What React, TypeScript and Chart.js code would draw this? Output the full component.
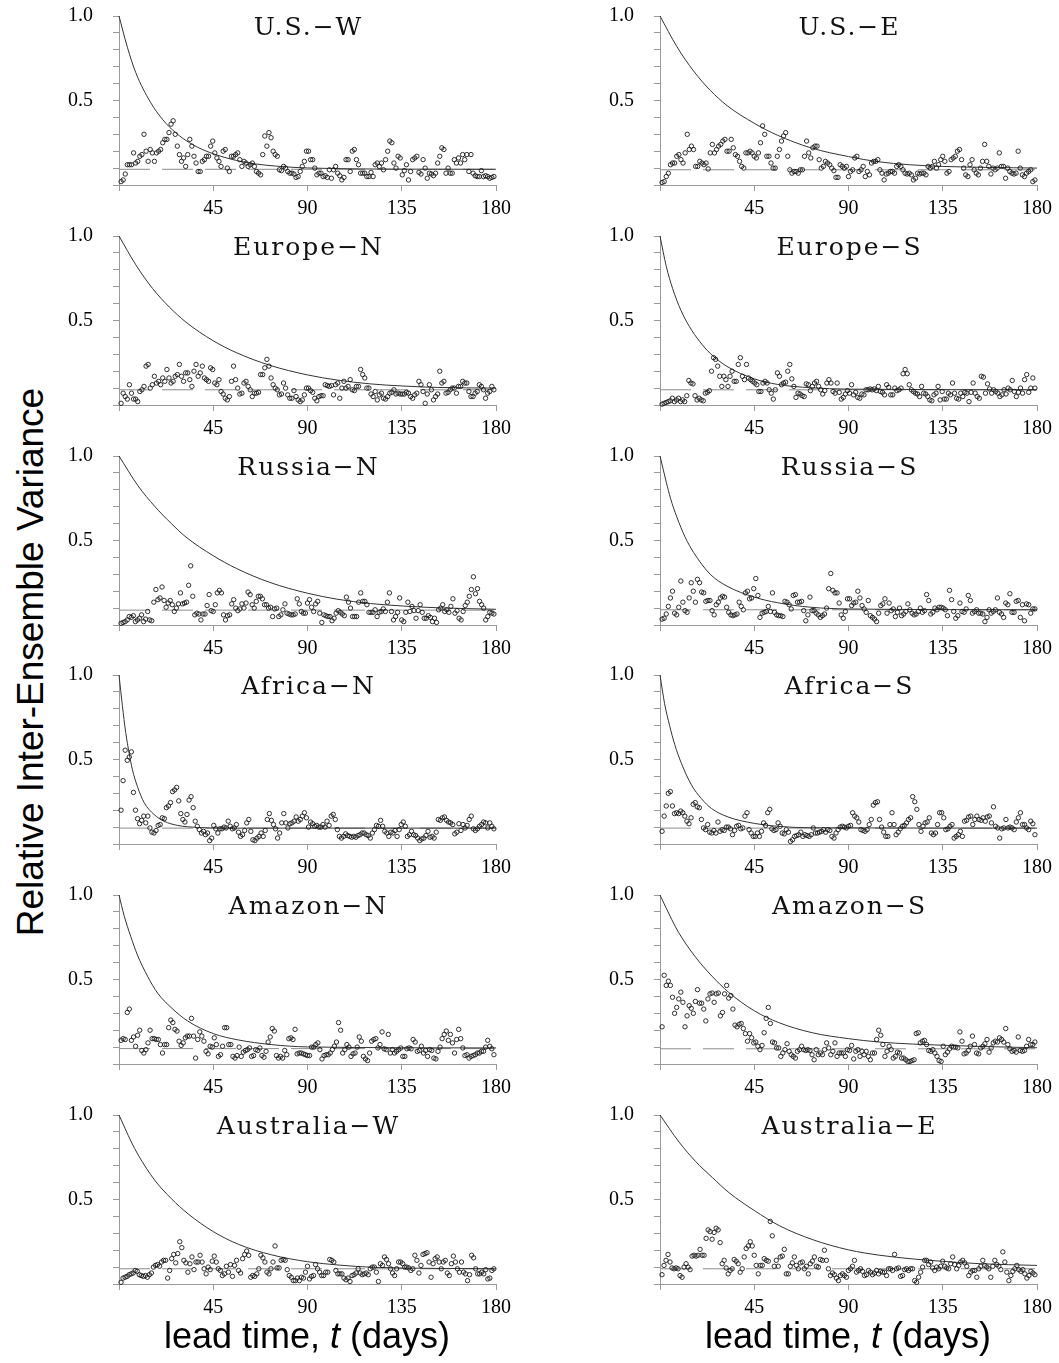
import React, { useEffect, useRef } from 'react';
import { Chart, registerables } from 'chart.js';

Chart.register(...registerables);

// ---------- data ----------
const regions = [
  'U.S.\u2212W', 'U.S.\u2212E',
  'Europe\u2212N', 'Europe\u2212S',
  'Russia\u2212N', 'Russia\u2212S',
  'Africa\u2212N', 'Africa\u2212S',
  'Amazon\u2212N', 'Amazon\u2212S',
  'Australia\u2212W', 'Australia\u2212E',
];
const xTickStep = 45;
const xMax = 180;
const yLabelled = [0.5, 1.0];
const noiseLevel = [0.093, 0.09, 0.09, 0.09, 0.088, 0.09, 0.094, 0.094, 0.091, 0.09, 0.09, 0.09];

const usW = [
  0.02,0.03,0.065,0.12,0.12,0.12,0.19,0.13,0.14,0.17,
  0.18,0.30,0.2,0.14,0.21,0.19,0.14,0.19,0.2,0.21,
  0.25,0.27,0.27,0.31,0.36,0.38,0.3,0.23,0.18,0.14,
  0.16,0.11,0.18,0.27,0.23,0.17,0.13,0.08,0.08,0.14,
  0.15,0.17,0.17,0.23,0.26,0.19,0.16,0.14,0.11,0.2,
  0.21,0.1,0.08,0.17,0.17,0.18,0.19,0.15,0.11,0.14,
  0.13,0.11,0.12,0.13,0.11,0.08,0.07,0.06,0.18,0.29,
  0.23,0.31,0.28,0.2,0.18,0.17,0.09,0.085,0.11,0.1,
  0.08,0.07,0.07,0.065,0.045,0.05,0.08,0.11,0.14,0.2,
  0.2,0.15,0.15,0.1,0.06,0.07,0.07,0.05,0.055,0.045,
  0.09,0.04,0.09,0.11,0.07,0.055,0.03,0.045,0.15,0.15,
  0.08,0.2,0.21,0.15,0.12,0.07,0.07,0.07,0.05,0.05,
  0.075,0.05,0.12,0.13,0.11,0.13,0.09,0.15,0.2,0.26,
  0.25,0.13,0.1,0.17,0.16,0.06,0.085,0.12,0.03,0.08,
  0.15,0.16,0.17,0.075,0.065,0.15,0.1,0.04,0.07,0.065,
  0.055,0.07,0.13,0.17,0.22,0.21,0.07,0.1,0.07,0.07,
  0.15,0.13,0.16,0.13,0.18,0.15,0.18,0.08,0.18,0.07,
  0.055,0.05,0.05,0.085,0.05,0.055,0.05,0.04,0.045,0.05,
];
const usE = [
  0.015,0.02,0.05,0.07,0.12,0.13,0.13,0.17,0.18,0.15,
  0.13,0.19,0.3,0.21,0.23,0.21,0.11,0.11,0.14,0.13,
  0.12,0.13,0.095,0.19,0.24,0.19,0.21,0.23,0.24,0.26,
  0.27,0.2,0.2,0.27,0.22,0.18,0.17,0.14,0.11,0.1,
  0.19,0.19,0.2,0.19,0.17,0.16,0.19,0.25,0.35,0.3,
  0.17,0.17,0.13,0.1,0.1,0.17,0.21,0.26,0.29,0.31,
  0.17,0.09,0.07,0.08,0.08,0.07,0.09,0.09,0.17,0.26,
  0.19,0.16,0.22,0.23,0.23,0.15,0.1,0.11,0.14,0.13,
  0.12,0.1,0.085,0.045,0.045,0.12,0.11,0.1,0.11,0.05,
  0.08,0.09,0.16,0.17,0.08,0.09,0.11,0.05,0.08,0.06,
  0.13,0.14,0.14,0.15,0.09,0.07,0.03,0.065,0.07,0.08,
  0.08,0.07,0.11,0.12,0.11,0.09,0.07,0.065,0.07,0.06,
  0.03,0.04,0.07,0.065,0.07,0.07,0.06,0.11,0.1,0.11,
  0.14,0.1,0.12,0.15,0.17,0.14,0.07,0.08,0.15,0.16,
  0.17,0.2,0.21,0.15,0.1,0.06,0.05,0.12,0.15,0.09,
  0.07,0.06,0.1,0.14,0.24,0.14,0.11,0.065,0.1,0.09,
  0.1,0.19,0.11,0.11,0.04,0.1,0.08,0.07,0.065,0.07,
  0.2,0.1,0.06,0.05,0.07,0.08,0.09,0.02,0.03,
];
const euN = [
  0.01,0.07,0.05,0.035,0.12,0.07,0.035,0.035,0.02,0.08,
  0.09,0.11,0.23,0.24,0.1,0.12,0.17,0.13,0.14,0.12,
  0.16,0.14,0.21,0.16,0.13,0.14,0.17,0.18,0.24,0.17,
  0.14,0.19,0.19,0.15,0.11,0.2,0.24,0.17,0.19,0.23,
  0.16,0.15,0.14,0.22,0.21,0.13,0.12,0.15,0.08,0.065,
  0.04,0.03,0.05,0.14,0.23,0.15,0.1,0.065,0.07,0.13,
  0.14,0.11,0.09,0.05,0.07,0.07,0.075,0.18,0.18,0.22,
  0.27,0.23,0.16,0.12,0.1,0.09,0.06,0.065,0.13,0.1,
  0.06,0.04,0.04,0.085,0.05,0.03,0.02,0.03,0.06,0.1,
  0.1,0.085,0.075,0.04,0.025,0.05,0.055,0.055,0.12,0.115,
  0.11,0.115,0.06,0.12,0.13,0.04,0.1,0.14,0.1,0.11,
  0.15,0.09,0.085,0.11,0.11,0.21,0.18,0.16,0.1,0.1,
  0.065,0.05,0.08,0.03,0.06,0.07,0.04,0.035,0.05,0.07,
  0.075,0.09,0.065,0.07,0.065,0.065,0.065,0.075,0.07,0.05,
  0.04,0.06,0.07,0.14,0.12,0.08,0.01,0.065,0.12,0.09,
  0.03,0.05,0.065,0.2,0.13,0.14,0.07,0.075,0.09,0.1,
  0.1,0.07,0.11,0.11,0.14,0.13,0.13,0.08,0.05,0.05,
  0.07,0.08,0.12,0.11,0.09,0.04,0.07,0.08,0.11,0.09,
];
const euS = [
  0.005,0.01,0.015,0.02,0.025,0.04,0.02,0.03,0.04,0.02,
  0.03,0.02,0.055,0.145,0.13,0.125,0.055,0.03,0.04,0.03,
  0.025,0.07,0.075,0.085,0.2,0.28,0.27,0.23,0.17,0.11,
  0.17,0.15,0.11,0.17,0.2,0.14,0.14,0.24,0.28,0.17,
  0.15,0.24,0.16,0.15,0.14,0.13,0.12,0.08,0.08,0.13,
  0.14,0.13,0.09,0.07,0.035,0.09,0.19,0.17,0.12,0.13,
  0.135,0.2,0.24,0.155,0.11,0.045,0.07,0.065,0.055,0.05,
  0.125,0.12,0.085,0.11,0.13,0.14,0.11,0.09,0.065,0.085,
  0.13,0.15,0.13,0.08,0.07,0.13,0.075,0.035,0.045,0.065,
  0.085,0.07,0.12,0.06,0.075,0.045,0.04,0.065,0.06,0.09,
  0.09,0.095,0.09,0.095,0.085,0.11,0.08,0.075,0.06,0.12,
  0.105,0.06,0.06,0.1,0.085,0.09,0.1,0.185,0.21,0.185,
  0.12,0.09,0.08,0.07,0.065,0.05,0.11,0.07,0.065,0.05,
  0.03,0.025,0.06,0.07,0.11,0.03,0.08,0.035,0.035,0.07,
  0.06,0.13,0.07,0.04,0.035,0.07,0.05,0.075,0.07,0.02,
  0.075,0.13,0.07,0.05,0.04,0.17,0.165,0.07,0.125,0.095,
  0.07,0.09,0.08,0.07,0.05,0.06,0.09,0.065,0.1,0.09,
  0.145,0.08,0.05,0.075,0.1,0.07,0.15,0.18,0.075,0.1,
  0.16,0.1,
];
const ruN = [
  0.01,0.015,0.02,0.03,0.05,0.045,0.055,0.02,0.03,0.04,
  0.06,0.02,0.035,0.08,0.03,0.025,0.135,0.21,0.15,0.16,
  0.225,0.145,0.105,0.13,0.145,0.12,0.08,0.1,0.125,0.19,
  0.125,0.13,0.135,0.235,0.35,0.17,0.06,0.07,0.065,0.03,
  0.065,0.065,0.115,0.18,0.085,0.08,0.12,0.19,0.205,0.19,
  0.06,0.03,0.055,0.06,0.125,0.15,0.1,0.085,0.095,0.125,
  0.1,0.13,0.195,0.18,0.12,0.1,0.14,0.17,0.17,0.155,
  0.12,0.12,0.1,0.105,0.05,0.095,0.1,0.05,0.06,0.09,
  0.125,0.07,0.065,0.06,0.06,0.065,0.155,0.125,0.08,0.07,
  0.07,0.13,0.15,0.105,0.08,0.125,0.14,0.07,0.015,0.06,
  0.055,0.05,0.05,0.025,0.04,0.07,0.085,0.075,0.065,0.055,
  0.165,0.135,0.1,0.05,0.05,0.05,0.135,0.19,0.14,0.14,
  0.12,0.075,0.075,0.075,0.09,0.05,0.075,0.08,0.095,0.08,
  0.135,0.19,0.08,0.03,0.05,0.075,0.16,0.03,0.02,0.075,
  0.135,0.08,0.11,0.085,0.04,0.085,0.12,0.075,0.04,0.04,
  0.055,0.045,0.02,0.04,0.015,0.09,0.1,0.12,0.08,0.09,
  0.075,0.11,0.155,0.07,0.085,0.04,0.03,0.08,0.115,0.135,
  0.17,0.21,0.285,0.185,0.215,0.14,0.12,0.1,0.03,0.05,
  0.075,0.07,0.065,
];
const ruS = [
  0.035,0.04,0.065,0.11,0.16,0.2,0.07,0.06,0.105,0.26,
  0.135,0.085,0.075,0.16,0.25,0.2,0.135,0.27,0.25,0.195,
  0.19,0.14,0.145,0.145,0.085,0.06,0.12,0.135,0.16,0.17,
  0.165,0.105,0.075,0.06,0.055,0.06,0.065,0.135,0.11,0.09,
  0.19,0.2,0.155,0.16,0.215,0.275,0.175,0.045,0.07,0.075,
  0.08,0.11,0.08,0.19,0.075,0.06,0.055,0.055,0.05,0.14,
  0.135,0.12,0.095,0.175,0.18,0.135,0.135,0.14,0.085,0.025,
  0.06,0.165,0.085,0.085,0.07,0.06,0.045,0.055,0.065,0.1,
  0.215,0.305,0.205,0.19,0.19,0.13,0.06,0.04,0.08,0.155,
  0.155,0.115,0.13,0.135,0.2,0.16,0.115,0.095,0.075,0.145,
  0.055,0.045,0.035,0.02,0.07,0.115,0.125,0.155,0.07,0.13,
  0.085,0.095,0.05,0.075,0.1,0.055,0.065,0.08,0.125,0.09,
  0.07,0.06,0.065,0.08,0.1,0.075,0.085,0.18,0.145,0.065,
  0.075,0.1,0.09,0.105,0.105,0.1,0.09,0.055,0.205,0.15,
  0.08,0.04,0.055,0.13,0.08,0.075,0.095,0.175,0.145,0.07,
  0.08,0.09,0.07,0.07,0.065,0.02,0.045,0.09,0.07,0.08,
  0.09,0.16,0.075,0.065,0.045,0.13,0.12,0.185,0.075,0.075,
  0.14,0.145,0.045,0.12,0.025,0.125,0.12,0.07,0.095,0.095,
];
const afN = [
  0.2,0.375,0.555,0.495,0.515,0.545,0.305,0.2,0.15,0.12,
  0.14,0.165,0.125,0.165,0.095,0.07,0.065,0.08,0.11,0.115,
  0.155,0.15,0.215,0.225,0.245,0.31,0.32,0.335,0.255,0.18,
  0.145,0.13,0.175,0.26,0.28,0.215,0.135,0.105,0.085,0.065,
  0.075,0.055,0.065,0.02,0.035,0.11,0.09,0.065,0.09,0.09,
  0.1,0.095,0.135,0.105,0.09,0.095,0.115,0.07,0.045,0.055,
  0.08,0.125,0.145,0.075,0.025,0.02,0.035,0.045,0.065,0.045,
  0.08,0.145,0.18,0.14,0.115,0.09,0.035,0.065,0.125,0.18,
  0.125,0.095,0.12,0.125,0.135,0.16,0.135,0.145,0.165,0.185,
  0.155,0.1,0.13,0.12,0.105,0.11,0.1,0.1,0.115,0.1,
  0.135,0.11,0.165,0.175,0.145,0.085,0.045,0.035,0.045,0.06,
  0.05,0.045,0.04,0.045,0.04,0.05,0.055,0.065,0.065,0.055,
  0.05,0.035,0.065,0.085,0.11,0.105,0.14,0.105,0.075,0.065,
  0.045,0.07,0.065,0.08,0.045,0.085,0.115,0.13,0.105,0.045,
  0.055,0.075,0.055,0.05,0.035,0.02,0.03,0.035,0.05,0.075,
  0.04,0.045,0.035,0.07,0.145,0.14,0.155,0.16,0.14,0.13,
  0.125,0.115,0.06,0.07,0.12,0.08,0.115,0.095,0.11,0.145,
  0.165,0.09,0.08,0.09,0.105,0.115,0.13,0.125,0.095,0.125,
  0.105,0.09,
];
const afS = [
  0.075,0.165,0.225,0.3,0.31,0.225,0.18,0.185,0.18,0.195,
  0.185,0.165,0.135,0.12,0.155,0.235,0.245,0.22,0.215,0.145,
  0.095,0.085,0.115,0.07,0.065,0.08,0.065,0.13,0.075,0.085,
  0.08,0.1,0.1,0.09,0.055,0.08,0.105,0.11,0.09,0.095,
  0.165,0.185,0.085,0.065,0.045,0.045,0.065,0.045,0.075,0.125,
  0.11,0.185,0.205,0.09,0.08,0.085,0.125,0.105,0.065,0.06,
  0.085,0.07,0.015,0.025,0.045,0.05,0.055,0.07,0.045,0.055,
  0.05,0.045,0.055,0.095,0.065,0.065,0.07,0.075,0.085,0.07,
  0.085,0.08,0.045,0.035,0.065,0.085,0.1,0.105,0.1,0.095,
  0.105,0.11,0.185,0.165,0.155,0.13,0.085,0.08,0.075,0.085,
  0.115,0.145,0.23,0.245,0.25,0.145,0.1,0.07,0.045,0.045,
  0.115,0.185,0.115,0.055,0.07,0.09,0.105,0.11,0.125,0.145,
  0.155,0.28,0.25,0.205,0.115,0.075,0.105,0.125,0.13,0.155,
  0.065,0.055,0.065,0.115,0.185,0.185,0.155,0.085,0.09,0.105,
  0.115,0.035,0.045,0.055,0.075,0.045,0.135,0.14,0.16,0.165,
  0.115,0.145,0.165,0.145,0.14,0.155,0.135,0.16,0.165,0.125,
  0.22,0.105,0.095,0.035,0.09,0.095,0.145,0.095,0.1,0.095,
  0.085,0.13,0.155,0.185,0.115,0.115,0.095,0.085,0.135,0.12,
  0.055,
];
const amN = [
  0.14,0.15,0.145,0.305,0.325,0.14,0.16,0.105,0.17,0.2,
  0.08,0.065,0.085,0.125,0.2,0.15,0.15,0.145,0.145,0.115,
  0.065,0.115,0.115,0.215,0.26,0.245,0.205,0.195,0.135,0.11,
  0.125,0.155,0.165,0.165,0.27,0.165,0.035,0.145,0.19,0.165,
  0.135,0.075,0.06,0.105,0.1,0.155,0.115,0.045,0.055,0.105,
  0.215,0.215,0.115,0.115,0.045,0.035,0.05,0.1,0.045,0.07,
  0.08,0.085,0.095,0.045,0.05,0.085,0.08,0.095,0.05,0.04,
  0.075,0.13,0.16,0.21,0.195,0.05,0.035,0.045,0.035,0.08,
  0.055,0.15,0.155,0.145,0.205,0.06,0.065,0.065,0.06,0.055,
  0.05,0.05,0.1,0.1,0.115,0.125,0.085,0.03,0.05,0.055,
  0.055,0.065,0.085,0.105,0.13,0.245,0.2,0.065,0.085,0.115,
  0.1,0.045,0.06,0.065,0.1,0.16,0.135,0.045,0.03,0.02,
  0.065,0.135,0.145,0.15,0.095,0.115,0.19,0.09,0.085,0.175,
  0.065,0.085,0.065,0.075,0.085,0.095,0.045,0.045,0.09,0.095,
  0.09,0.145,0.13,0.075,0.08,0.105,0.065,0.08,0.045,0.085,
  0.08,0.035,0.03,0.075,0.1,0.15,0.175,0.195,0.14,0.175,
  0.125,0.065,0.145,0.205,0.15,0.095,0.05,0.055,0.035,0.045,
  0.05,0.055,0.065,0.065,0.075,0.075,0.1,0.14,0.105,0.09,
  0.055,
];
const amS = [
  0.22,0.525,0.465,0.49,0.465,0.395,0.3,0.335,0.385,0.425,
  0.365,0.22,0.285,0.345,0.33,0.3,0.37,0.44,0.36,0.36,
  0.325,0.255,0.385,0.415,0.42,0.365,0.415,0.42,0.285,0.305,
  0.415,0.465,0.39,0.405,0.325,0.23,0.22,0.235,0.24,0.21,
  0.18,0.135,0.18,0.155,0.125,0.13,0.105,0.085,0.11,0.185,
  0.27,0.335,0.24,0.13,0.125,0.095,0.095,0.045,0.065,0.085,
  0.12,0.075,0.055,0.045,0.035,0.075,0.085,0.105,0.085,0.08,
  0.085,0.08,0.055,0.025,0.085,0.055,0.065,0.055,0.085,0.125,
  0.095,0.055,0.075,0.125,0.045,0.065,0.065,0.065,0.045,0.085,
  0.08,0.11,0.03,0.075,0.085,0.045,0.075,0.055,0.075,0.045,
  0.025,0.065,0.065,0.145,0.2,0.17,0.115,0.045,0.075,0.105,
  0.085,0.035,0.045,0.07,0.065,0.035,0.035,0.025,0.015,0.015,
  0.02,0.025,0.18,0.185,0.125,0.135,0.14,0.115,0.08,0.075,
  0.085,0.065,0.045,0.02,0.015,0.105,0.055,0.07,0.09,0.105,
  0.1,0.1,0.095,0.19,0.135,0.06,0.065,0.08,0.105,0.165,
  0.115,0.065,0.06,0.095,0.105,0.12,0.145,0.07,0.095,0.125,
  0.135,0.13,0.155,0.145,0.13,0.21,0.115,0.09,0.075,0.08,
  0.07,0.16,0.08,0.075,0.08,0.105,0.145,0.115,0.115,0.13,
];
const auW = [
  0.01,0.035,0.04,0.045,0.055,0.06,0.065,0.08,0.075,0.055,
  0.05,0.045,0.05,0.04,0.055,0.065,0.1,0.11,0.115,0.105,
  0.13,0.14,0.14,0.035,0.08,0.15,0.175,0.125,0.18,0.25,
  0.215,0.14,0.125,0.07,0.12,0.16,0.085,0.13,0.13,0.17,
  0.13,0.09,0.06,0.1,0.085,0.135,0.165,0.13,0.09,0.08,
  0.05,0.06,0.105,0.07,0.115,0.045,0.11,0.14,0.08,0.065,
  0.15,0.175,0.195,0.17,0.04,0.05,0.045,0.06,0.09,0.17,
  0.155,0.13,0.07,0.06,0.09,0.13,0.225,0.095,0.095,0.14,
  0.145,0.14,0.085,0.05,0.04,0.02,0.02,0.035,0.02,0.04,
  0.035,0.07,0.105,0.03,0.045,0.05,0.115,0.09,0.07,0.05,
  0.05,0.07,0.07,0.145,0.14,0.13,0.08,0.06,0.06,0.06,
  0.035,0.025,0.035,0.015,0.05,0.055,0.065,0.09,0.065,0.055,
  0.06,0.065,0.055,0.09,0.1,0.1,0.07,0.015,0.12,0.11,
  0.16,0.145,0.12,0.09,0.065,0.05,0.09,0.13,0.13,0.12,
  0.1,0.1,0.095,0.08,0.09,0.17,0.14,0.065,0.11,0.175,
  0.18,0.185,0.13,0.04,0.12,0.15,0.16,0.13,0.09,0.13,
  0.14,0.065,0.05,0.12,0.165,0.13,0.09,0.07,0.13,0.07,
  0.06,0.02,0.055,0.17,0.155,0.09,0.06,0.06,0.07,0.06,
  0.085,0.03,0.035,0.08,0.09,
];
const auE = [
  0.055,0.11,0.14,0.175,0.13,0.095,0.09,0.095,0.09,0.05,
  0.04,0.1,0.12,0.1,0.085,0.165,0.17,0.165,0.17,0.205,
  0.17,0.17,0.27,0.32,0.31,0.265,0.305,0.33,0.32,0.245,
  0.12,0.14,0.095,0.06,0.08,0.09,0.145,0.135,0.12,0.07,
  0.09,0.16,0.21,0.225,0.25,0.225,0.17,0.11,0.06,0.11,
  0.11,0.15,0.14,0.135,0.37,0.285,0.105,0.14,0.105,0.16,
  0.165,0.205,0.06,0.06,0.105,0.125,0.16,0.11,0.09,0.125,
  0.13,0.09,0.105,0.06,0.12,0.135,0.16,0.105,0.1,0.145,
  0.14,0.2,0.14,0.09,0.05,0.065,0.055,0.035,0.02,0.05,
  0.06,0.05,0.04,0.08,0.09,0.105,0.14,0.07,0.08,0.09,
  0.075,0.05,0.055,0.08,0.07,0.055,0.065,0.08,0.06,0.075,
  0.07,0.07,0.05,0.09,0.09,0.08,0.175,0.09,0.095,0.045,
  0.05,0.085,0.09,0.08,0.09,0.09,0.02,0.01,0.04,0.07,
  0.1,0.14,0.14,0.115,0.13,0.095,0.08,0.1,0.09,0.105,
  0.135,0.105,0.095,0.09,0.12,0.16,0.115,0.09,0.11,0.13,
  0.14,0.125,0.105,0.05,0.07,0.08,0.08,0.04,0.09,0.105,
  0.14,0.11,0.1,0.09,0.04,0.105,0.14,0.115,0.105,0.085,
  0.19,0.13,0.07,0.02,0.05,0.075,0.09,0.11,0.085,0.075,
  0.085,0.06,0.035,0.05,0.075,0.065,0.055,
];

// decay curves: [lead time (days), relative variance]
const usWCurve = [[0,1],[4,0.815],[8,0.665],[15,0.49],[21,0.385],[27,0.31],[35,0.24],[45,0.185],[60,0.135],[80,0.107],[100,0.098],[130,0.094],[180,0.093]];
const usECurve = [[0,1],[8,0.82],[16,0.675],[24,0.56],[32,0.47],[45,0.365],[56,0.295],[72,0.22],[90,0.168],[104,0.138],[119,0.12],[135,0.11],[180,0.1]];
const euNCurve = [[0,1],[8,0.83],[16,0.69],[24,0.58],[32,0.49],[45,0.38],[56,0.31],[72,0.235],[90,0.178],[104,0.148],[120,0.125],[136,0.112],[152,0.104],[180,0.1]];
const euSCurve = [[0,1],[3,0.82],[6,0.69],[10,0.56],[14,0.465],[19,0.375],[24,0.305],[32,0.228],[45,0.155],[56,0.122],[72,0.102],[90,0.094],[180,0.09]];
const ruNCurve = [[0,1],[9,0.825],[17,0.703],[25,0.6],[32,0.52],[45,0.41],[56,0.335],[72,0.252],[90,0.188],[104,0.153],[120,0.127],[136,0.112],[152,0.102],[180,0.093]];
const ruSCurve = [[0,1],[3,0.845],[5,0.75],[8,0.64],[12,0.52],[16,0.43],[24,0.3],[32,0.23],[45,0.165],[56,0.132],[72,0.105],[90,0.095],[180,0.09]];
const afNCurve = [[0,1],[1.6,0.82],[3.2,0.66],[4.8,0.54],[6.4,0.44],[8.8,0.34],[12,0.245],[16.7,0.175],[21.5,0.135],[28,0.11],[37.5,0.098],[50,0.094],[180,0.094]];
const afSCurve = [[0,1],[2.2,0.83],[4.6,0.7],[7,0.59],[10.2,0.478],[15,0.35],[19.8,0.268],[24.6,0.21],[32.5,0.16],[45,0.122],[56,0.105],[72,0.096],[180,0.094]];
const amNCurve = [[0,1],[2.4,0.88],[5.6,0.755],[8.8,0.645],[13.6,0.52],[18.4,0.42],[24.8,0.335],[32.7,0.255],[45,0.18],[56.7,0.143],[72.7,0.115],[90,0.101],[180,0.095]];
const amSCurve = [[0,1],[5.6,0.855],[8.8,0.78],[16.8,0.635],[24.8,0.52],[32.7,0.425],[45,0.315],[56.7,0.245],[72.7,0.185],[90,0.15],[104.6,0.13],[120.6,0.118],[135,0.111],[152.6,0.104],[180,0.096]];
const auWCurve = [[0,1],[5.9,0.84],[9.1,0.765],[17,0.615],[25,0.505],[33,0.415],[45,0.31],[57,0.235],[73,0.172],[90,0.132],[105,0.112],[121,0.099],[180,0.09]];
const auECurve = [[0,1],[9.1,0.84],[17,0.725],[25,0.63],[33,0.54],[45,0.435],[57,0.345],[73,0.262],[90,0.202],[105,0.17],[121,0.148],[135,0.134],[153,0.12],[180,0.11]];

const pointSeries = [usW, usE, euN, euS, ruN, ruS, afN, afS, amN, amS, auW, auE];
const curveSeries = [usWCurve, usECurve, euNCurve, euSCurve, ruNCurve, ruSCurve, afNCurve, afSCurve, amNCurve, amSCurve, auWCurve, auECurve];

// ---------- layout ----------
const AREA_W = 377;
const AREA_H = 169;
const Y_AXIS_W = 60;
const X_AXIS_H = 40;
const PAD_TOP = 14;
const PAD_RIGHT = 22;
const COL_AREA_LEFT = [119, 660];
const ROW_TOP0 = 16;
const ROW_STEP = 219.8;

const AXIS_GRAY = '#9a9a9a';
const TICK_FONT = { family: '"Liberation Serif", "Times New Roman", serif', size: 20 };

const titlePlugin = {
  id: 'panelTitle',
  afterDatasetsDraw(chart: any, _args: any, opts: any) {
    const { ctx, chartArea } = chart;
    ctx.save();
    ctx.font = '25px "DejaVu Serif", serif';
    try { (ctx as any).letterSpacing = '2px'; } catch (e) { /* ignore */ }
    ctx.fillStyle = '#111';
    ctx.textAlign = 'center';
    ctx.textBaseline = 'alphabetic';
    ctx.fillText(opts.text, (chartArea.left + chartArea.right) / 2 + 1, chartArea.top + 19);
    ctx.restore();
  },
};

function Panel({ index }: { index: number }) {
  const ref = useRef<HTMLCanvasElement | null>(null);
  const col = index % 2;
  const row = Math.floor(index / 2);
  const left = COL_AREA_LEFT[col] - Y_AXIS_W;
  const top = Math.round(ROW_TOP0 + row * ROW_STEP) - PAD_TOP;
  const width = Y_AXIS_W + AREA_W + PAD_RIGHT;
  const height = PAD_TOP + AREA_H + X_AXIS_H;

  useEffect(() => {
    if (!ref.current) return;
    const pts = pointSeries[index];
    const n = pts.length;
    const curve = curveSeries[index];
    const lvl = noiseLevel[index];
    const chart = new Chart(ref.current, {
      type: 'scatter',
      data: {
        datasets: [
          {
            data: pts.map((v, i) => ({ x: ((i + 1) * (xMax - 1)) / n, y: v })),
            showLine: false,
            pointStyle: 'circle',
            pointRadius: 2.2,
            pointBorderWidth: 0.9,
            pointBorderColor: '#1a1a1a',
            pointBackgroundColor: 'rgba(255,255,255,0)',
            clip: false,
            order: 0,
          } as any,
          {
            data: curve.map(([t, v]) => ({ x: t, y: v })),
            showLine: true,
            pointRadius: 0,
            borderColor: '#333',
            borderWidth: 1,
            cubicInterpolationMode: 'monotone',
            fill: false,
            clip: false,
            order: 1,
          } as any,
          {
            data: [{ x: 0, y: lvl }, { x: xMax, y: lvl }],
            showLine: true,
            pointRadius: 0,
            borderColor: '#8c8c8c',
            borderWidth: 1,
            borderDash: [31, 12],
            fill: false,
            order: 2,
          } as any,
        ],
      },
      options: {
        animation: false,
        responsive: false,
        maintainAspectRatio: false,
        events: [],
        layout: { padding: { top: PAD_TOP, right: PAD_RIGHT, left: 0, bottom: 0 } },
        plugins: {
          legend: { display: false },
          tooltip: { enabled: false },
          title: { display: false },
          panelTitle: { text: regions[index] },
        } as any,
        scales: {
          x: {
            type: 'linear',
            min: 0,
            max: xMax,
            ticks: {
              stepSize: xTickStep,
              autoSkip: false,
              maxRotation: 0,
              color: '#000',
              font: TICK_FONT,
              padding: 6,
              callback: (v: any) => (Number(v) === 0 ? '' : String(v)),
            },
            grid: { display: true, drawOnChartArea: false, drawTicks: true, tickLength: 6, color: AXIS_GRAY },
            border: { display: true, color: AXIS_GRAY, width: 1 },
            afterFit: (s: any) => { s.height = X_AXIS_H; s.paddingLeft = 0; s.paddingRight = 0; },
          },
          y: {
            type: 'linear',
            min: 0,
            max: 1,
            ticks: {
              stepSize: 0.1,
              autoSkip: false,
              color: '#000',
              font: TICK_FONT,
              padding: 20,
              callback: (v: any) => {
                const f = yLabelled.find((l) => Math.abs(Number(v) - l) < 1e-6);
                return f === undefined ? '' : f.toFixed(1);
              },
            },
            grid: { display: true, drawOnChartArea: false, drawTicks: true, tickLength: 6, color: AXIS_GRAY },
            border: { display: true, color: AXIS_GRAY, width: 1 },
            afterFit: (s: any) => { s.width = Y_AXIS_W; s.paddingTop = 0; s.paddingBottom = 0; },
          },
        },
      },
      plugins: [titlePlugin as any],
    });
    return () => chart.destroy();
  }, [index]);

  return (
    <canvas
      ref={ref}
      width={width}
      height={height}
      style={{ position: 'absolute', left, top, width, height }}
    />
  );
}

const labelFont = '"Liberation Sans", Arial, Helvetica, sans-serif';

export default function App() {
  return (
    <div style={{ position: 'absolute', left: 0, top: 0, width: 1059, height: 1363, background: '#fff', overflow: 'hidden' }}>
      {regions.map((_, i) => (
        <Panel key={i} index={i} />
      ))}
      <div
        style={{
          position: 'absolute',
          left: 31 - 400,
          top: 662 - 18,
          width: 800,
          height: 36,
          lineHeight: '36px',
          fontSize: 37,
          fontFamily: labelFont,
          textAlign: 'center',
          whiteSpace: 'nowrap',
          color: '#000',
          transform: 'rotate(-90deg)',
          transformOrigin: '50% 50%',
        }}
      >
        Relative Inter-Ensemble Variance
      </div>
      {[307, 848].map((cx, k) => (
        <div
          key={k}
          style={{
            position: 'absolute',
            left: cx - 250,
            top: 1318,
            width: 500,
            height: 36,
            lineHeight: '36px',
            fontSize: 36,
            fontFamily: labelFont,
            textAlign: 'center',
            whiteSpace: 'nowrap',
            color: '#000',
          }}
        >
          lead time, <i>t</i> (days)
        </div>
      ))}
    </div>
  );
}
